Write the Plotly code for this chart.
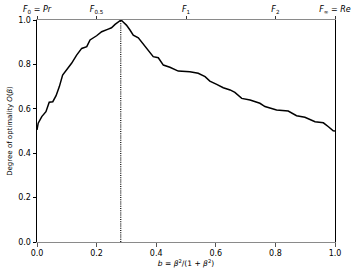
import plotly.graph_objects as go

b_vals = [0.0, 0.004, 0.016, 0.03, 0.041, 0.053, 0.064, 0.075, 0.086, 0.10, 0.116, 0.133,
          0.15, 0.167, 0.178, 0.20, 0.217, 0.239, 0.25, 0.262, 0.272, 0.279, 0.282,
          0.29, 0.30, 0.312, 0.323, 0.34, 0.357, 0.374, 0.39, 0.407, 0.424, 0.446,
          0.474, 0.513, 0.541, 0.564, 0.58, 0.603, 0.625, 0.648, 0.664, 0.687, 0.715,
          0.748, 0.765, 0.804, 0.843, 0.871, 0.899, 0.933, 0.961, 0.978, 0.994, 1.0]
opt_vals = [0.505, 0.535, 0.565, 0.587, 0.63, 0.632, 0.659, 0.70, 0.752, 0.775, 0.805, 0.842,
            0.872, 0.88, 0.91, 0.929, 0.947, 0.959, 0.965, 0.98, 0.99, 0.997, 1.0,
            0.99, 0.977, 0.955, 0.932, 0.92, 0.89, 0.865, 0.835, 0.83, 0.797, 0.787,
            0.77, 0.767, 0.76, 0.745, 0.725, 0.71, 0.695, 0.685, 0.674, 0.647, 0.64,
            0.625, 0.61, 0.595, 0.59, 0.569, 0.562, 0.542, 0.537, 0.519, 0.501, 0.50]
peak_b = 0.281
x_ticks = [0.0, 0.2, 0.4, 0.6, 0.8, 1.0]
y_ticks = [0.0, 0.2, 0.4, 0.6, 0.8, 1.0]
top_tickvals = [0.0, 0.2, 0.5, 0.8, 1.0]
top_ticktext = ["<i>F</i><sub>0</sub> = <i>Pr</i>", "<i>F</i><sub>0.5</sub>", "<i>F</i><sub>1</sub>",
                "<i>F</i><sub>2</sub>", "<i>F</i><sub>∞</sub> = <i>Re</i>"]

font = dict(family="DejaVu Sans", size=8, color="black")

fig = go.Figure()
fig.add_trace(go.Scatter(x=[peak_b, peak_b], y=[0, 1.0], mode="lines",
                         line=dict(color="black", width=1.2, dash="1px,1.2px"), showlegend=False))
fig.add_trace(go.Scatter(x=b_vals, y=opt_vals, mode="lines",
                         line=dict(color="black", width=1.5), showlegend=False))
fig.add_trace(go.Scatter(x=[0, 1], y=[0, 0], xaxis="x2", mode="lines",
                         line=dict(width=0), showlegend=False, hoverinfo="skip"))

fig.update_layout(
    width=357, height=276,
    margin=dict(l=37, r=22, t=20, b=34),
    plot_bgcolor="white", paper_bgcolor="white",
    font=font,
    xaxis=dict(range=[0, 1], tickvals=x_ticks, ticktext=[f"{v:.1f}" for v in x_ticks],
               showgrid=False, zeroline=False, showline=True, linecolor="#8a8a8a",
               linewidth=1.4, mirror=True, ticks="outside", ticklen=3.5, tickwidth=0.8,
               tickcolor="#555", tickfont=font, automargin=False,
               title=dict(text="<i>b</i> = <i>β</i><sup>2</sup>/(1 + <i>β</i><sup>2</sup>)",
                          font=dict(family="DejaVu Sans", size=7.5), standoff=0)),
    xaxis2=dict(range=[0, 1], overlaying="x", side="top", tickvals=top_tickvals,
                ticktext=top_ticktext, showgrid=False, zeroline=False, showline=False,
                ticks="outside", ticklen=3.5, tickwidth=0.8, tickcolor="#333", tickfont=font,
                automargin=False),
    yaxis=dict(range=[0, 1], tickvals=y_ticks, ticktext=[f"{v:.1f}" for v in y_ticks],
               showgrid=False, zeroline=False, showline=True, linecolor="black",
               linewidth=1, mirror=True, ticks="outside", ticklen=3.5, tickwidth=0.8,
               tickcolor="black", tickfont=font, automargin=False,
               title=dict(text="Degree of optimality <i>O</i>(<i>β</i>)",
                          font=dict(family="DejaVu Sans", size=7), standoff=4)),
)

fig.write_html("out.html", config={"displayModeBar": False},
               post_script="document.body.style.margin='0';")
